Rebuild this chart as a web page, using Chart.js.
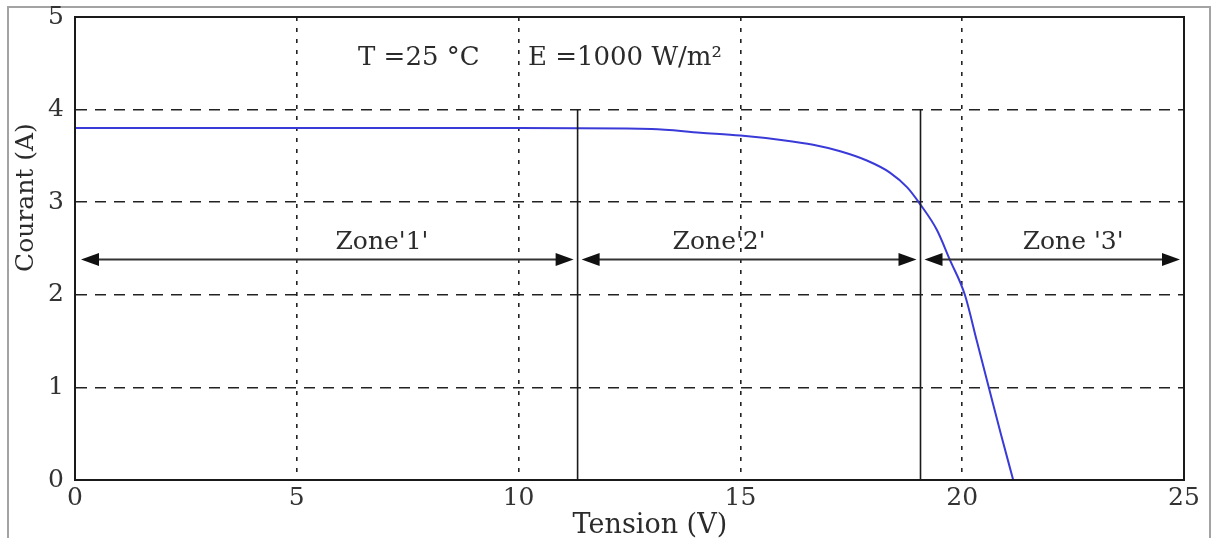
<!DOCTYPE html>
<html>
<head>
<meta charset="utf-8">
<script src="https://cdn.jsdelivr.net/npm/chart.js@4"></script>
<style>
  body { margin: 0; background: #fff; }
  #wrap { position: relative; width: 1213px; height: 538px; overflow: hidden; }
  #frame { position: absolute; left: 7px; top: 6px; width: 1200px; height: 700px; border: 2px solid #a3a3a3; }
  canvas { position: absolute; left: 0; top: 0; }
</style>
</head>
<body>
<div id="wrap">
  <div id="frame"></div>
  <canvas id="ivChart" width="1213" height="538"></canvas>
</div>
<script>
// I-V curve of the panel
const tension = [0, 5, 10, 13, 14.1, 15, 15.96, 16.64, 17.25, 17.85, 18.37, 18.76, 19.05, 19.43, 19.72, 20.06, 20.33, 20.6, 20.87, 21.15];
const courant = [3.8, 3.8, 3.8, 3.79, 3.75, 3.72, 3.67, 3.62, 3.55, 3.45, 3.32, 3.16, 2.98, 2.7, 2.38, 2.0, 1.5, 1.0, 0.5, 0];

const xTicks = [0, 5, 10, 15, 20, 25];
const yTicks = [0, 1, 2, 3, 4, 5];

// zones
const zoneBounds = [11.33, 19.06];
const zoneTop = 4;
const arrowLevel = 2.38;
const zoneLabels = ["Zone'1'", "Zone'2'", "Zone '3'"];
const zoneLabelX = [6.92, 14.52, 22.5];
const zoneLabelLevel = 2.56;

// conditions
const condLabels = ["T =25 \u00B0C", "E =1000 W/m\u00B2"];
const condX = [6.38, 10.21];
const condLevel = 4.55;

const xTitle = "Tension (V)";
const yTitle = "Courant (A)";

const FONT = "'DejaVu Serif', 'Liberation Serif', serif";

/* ====== ARROWS ====== */
function drawArrow(ctx, x1, x2, yy) {
    const hl = 18, hh = 6.5;
    ctx.beginPath();
    ctx.moveTo(x1 + hl - 2, yy);
    ctx.lineTo(x2 - hl + 2, yy);
    ctx.stroke();
    ctx.beginPath();
    ctx.moveTo(x1, yy);
    ctx.lineTo(x1 + hl, yy - hh);
    ctx.lineTo(x1 + hl, yy + hh);
    ctx.closePath();
    ctx.fill();
    ctx.beginPath();
    ctx.moveTo(x2, yy);
    ctx.lineTo(x2 - hl, yy - hh);
    ctx.lineTo(x2 - hl, yy + hh);
    ctx.closePath();
    ctx.fill();
}

const annotate = {
    id: "annotate",
    afterDatasetsDraw(chart) {
        const { ctx, chartArea: a, scales: { x, y } } = chart;
        ctx.save();

        // plot frame
        ctx.strokeStyle = "#1a1a1a";
        ctx.lineWidth = 2;
        ctx.strokeRect(a.left, a.top, a.right - a.left, a.bottom - a.top);

        // zone boundaries
        ctx.lineWidth = 1.6;
        zoneBounds.forEach(v => {
            const px = x.getPixelForValue(v);
            ctx.beginPath();
            ctx.moveTo(px, y.getPixelForValue(zoneTop));
            ctx.lineTo(px, y.getPixelForValue(0));
            ctx.stroke();
        });

        // double arrows
        const edges = [0, ...zoneBounds, 25];
        const ay = y.getPixelForValue(arrowLevel);
        ctx.strokeStyle = "#333";
        ctx.fillStyle = "#111";
        ctx.lineWidth = 2;
        for (let i = 0; i < edges.length - 1; i++) {
            const g1 = i === 0 ? 6 : 4;
            drawArrow(ctx, x.getPixelForValue(edges[i]) + g1, x.getPixelForValue(edges[i + 1]) - 4, ay);
        }

        // texts
        ctx.fillStyle = "#2b2b2b";
        ctx.font = "25px " + FONT;
        ctx.textBaseline = "middle";
        ctx.textAlign = "center";
        zoneLabels.forEach((t, i) => {
            ctx.fillText(t, x.getPixelForValue(zoneLabelX[i]), y.getPixelForValue(zoneLabelLevel));
        });
        ctx.textAlign = "left";
        ctx.font = "26px " + FONT;
        condLabels.forEach((t, i) => {
            ctx.fillText(t, x.getPixelForValue(condX[i]), y.getPixelForValue(condLevel));
        });

        // axis titles
        ctx.font = "27px " + FONT;
        ctx.textAlign = "center";
        ctx.fillText(xTitle, x.getPixelForValue(12.96), a.bottom + 46);
        ctx.save();
        ctx.translate(a.left - 49, y.getPixelForValue(3.05));
        ctx.rotate(-Math.PI / 2);
        ctx.font = "25px " + FONT;
        ctx.fillText(yTitle, 0, 0);
        ctx.restore();

        ctx.restore();
    }
};

function gridColor(edgeMax) {
    return c => (c.tick && (c.tick.value === 0 || c.tick.value === edgeMax)) ? "rgba(0,0,0,0)" : "#222";
}

new Chart(document.getElementById("ivChart"), {
    type: "line",
    data: {
        datasets: [{
            data: tension.map((v, i) => ({ x: v, y: courant[i] })),
            borderColor: "#3a3ad8",
            borderWidth: 2,
            pointRadius: 0,
            cubicInterpolationMode: "monotone",
            fill: false
        }]
    },
    options: {
        responsive: false,
        animation: false,
        layout: { padding: { left: 0, top: 17, right: 29, bottom: 0 } },
        plugins: { legend: { display: false }, tooltip: { enabled: false } },
        scales: {
            x: {
                type: "linear",
                min: xTicks[0],
                max: xTicks[xTicks.length - 1],
                afterFit: s => { s.height = 58; s.paddingLeft = 0; s.paddingRight = 0; },
                afterBuildTicks: s => { s.ticks = xTicks.map(v => ({ value: v })); },
                ticks: { color: "#333", padding: 3, font: { family: FONT, size: 25 } },
                grid: { color: gridColor(25), lineWidth: 1.6, drawTicks: false },
                border: { display: true, color: "#1a1a1a", width: 2, dash: [4, 7] }
            },
            y: {
                type: "linear",
                min: yTicks[0],
                max: yTicks[yTicks.length - 1],
                afterFit: s => { s.width = 75; s.paddingTop = 0; s.paddingBottom = 0; },
                afterBuildTicks: s => { s.ticks = yTicks.map(v => ({ value: v })); },
                ticks: { color: "#333", padding: 11, font: { family: FONT, size: 25 } },
                grid: { color: gridColor(5), lineWidth: 1.5, drawTicks: false },
                border: { display: true, color: "#1a1a1a", width: 2, dash: [11, 8] }
            }
        }
    },
    plugins: [annotate]
});
</script>
</body>
</html>
